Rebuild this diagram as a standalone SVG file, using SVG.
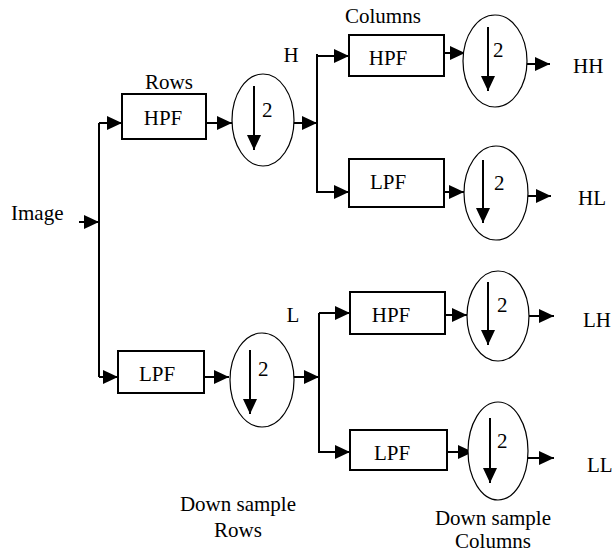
<svg xmlns="http://www.w3.org/2000/svg" width="612" height="555" viewBox="0 0 612 555">
<style>
text{font-family:'Liberation Serif','DejaVu Serif','Times New Roman',Times,serif;font-size:21px;fill:#000}
.box{fill:#fff;stroke:#000;stroke-width:2}
.ds{fill:#fff;stroke:#000;stroke-width:1.2}
.c{fill:none;stroke:#000;stroke-width:2}
.m{text-anchor:middle}
</style>
<defs>
<marker id="ah" viewBox="0 0 15 14" refX="15" refY="7" markerWidth="15" markerHeight="14" markerUnits="userSpaceOnUse" orient="auto">
<path d="M0,0 L15,7 L0,14 z" fill="#000"/>
</marker>
<marker id="ad" viewBox="0 0 15 14" refX="15" refY="7" markerWidth="15" markerHeight="14" markerUnits="userSpaceOnUse" orient="auto">
<path d="M0,0 L15,7 L0,14 z" fill="#000"/>
</marker>
</defs>
<g id="labels" font-family="Liberation Serif, serif">
<text x="11" y="220">Image</text>
<text x="169" y="89" class="m">Rows</text>
<text x="291" y="62" class="m">H</text>
<text x="293" y="322" class="m">L</text>
<text x="345" y="23">Columns</text>
<text x="573" y="73">HH</text>
<text x="578" y="205">HL</text>
<text x="583" y="327">LH</text>
<text x="587" y="472">LL</text>
<text x="238" y="511" class="m">Down sample</text>
<text x="238" y="537" class="m">Rows</text>
<text x="493" y="525" class="m">Down sample</text>
<text x="493" y="548" class="m">Columns</text>
</g>
<g id="connectors" class="c">
<path d="M79,222 H99" marker-end="url(#ah)"/>
<path d="M99,377 V123"/>
<path d="M99,123 H122" marker-end="url(#ah)"/>
<path d="M99,377 H118" marker-end="url(#ah)"/>
<path d="M206,123 H232" marker-end="url(#ah)"/>
<path d="M294,123 H317" marker-end="url(#ah)"/>
<path d="M317,54 V193"/>
<path d="M317,56 H349" marker-end="url(#ah)"/>
<path d="M317,192 H349" marker-end="url(#ah)"/>
<path d="M444,53 H465" marker-end="url(#ah)"/>
<path d="M527,64 H550" marker-end="url(#ah)"/>
<path d="M444,192 H464" marker-end="url(#ah)"/>
<path d="M528,196 H551" marker-end="url(#ah)"/>
<path d="M204,377 H229" marker-end="url(#ah)"/>
<path d="M294,377 H319" marker-end="url(#ah)"/>
<path d="M319,313 V453"/>
<path d="M319,313 H350" marker-end="url(#ah)"/>
<path d="M319,452 H350" marker-end="url(#ah)"/>
<path d="M445,315 H467" marker-end="url(#ah)"/>
<path d="M529,316 H554" marker-end="url(#ah)"/>
<path d="M447,452 H473" marker-end="url(#ah)"/>
<path d="M528,458 H554" marker-end="url(#ah)"/>
</g>
<g id="hpf_rows"><rect class="box" x="122" y="94" width="84" height="45"/><text x="163" y="125" class="m">HPF</text></g>
<g id="ds_h"><ellipse class="ds" cx="263" cy="120" rx="31" ry="46"/><path class="c" d="M254,86 V150" marker-end="url(#ad)"/><text x="262" y="117">2</text></g>
<g id="lpf_rows"><rect class="box" x="118" y="351" width="86" height="42"/><text x="157" y="381" class="m">LPF</text></g>
<g id="ds_l"><ellipse class="ds" cx="262" cy="380" rx="32" ry="47"/><path class="c" d="M250,350 V414" marker-end="url(#ad)"/><text x="258" y="376">2</text></g>
<g id="hpf_h"><rect class="box" x="349" y="35" width="95" height="41"/><text x="388" y="65" class="m">HPF</text></g>
<g id="ds_hh"><ellipse class="ds" cx="495" cy="61" rx="32" ry="46"/><path class="c" d="M488,27 V91" marker-end="url(#ad)"/><text x="493" y="57">2</text></g>
<g id="lpf_h"><rect class="box" x="349" y="159" width="95" height="48"/><text x="388" y="189" class="m">LPF</text></g>
<g id="ds_hl"><ellipse class="ds" cx="496" cy="193" rx="32" ry="47"/><path class="c" d="M483,160 V223" marker-end="url(#ad)"/><text x="494" y="190">2</text></g>
<g id="hpf_l"><rect class="box" x="350" y="292" width="95" height="42"/><text x="391" y="322" class="m">HPF</text></g>
<g id="ds_lh"><ellipse class="ds" cx="498" cy="316" rx="31" ry="45"/><path class="c" d="M488,282 V345" marker-end="url(#ad)"/><text x="497" y="312">2</text></g>
<g id="lpf_l"><rect class="box" x="350" y="430" width="97" height="40"/><text x="392" y="460" class="m">LPF</text></g>
<g id="ds_ll"><ellipse class="ds" cx="498" cy="451" rx="30" ry="49"/><path class="c" d="M490,418 V483" marker-end="url(#ad)"/><text x="497" y="448">2</text></g>
</svg>
